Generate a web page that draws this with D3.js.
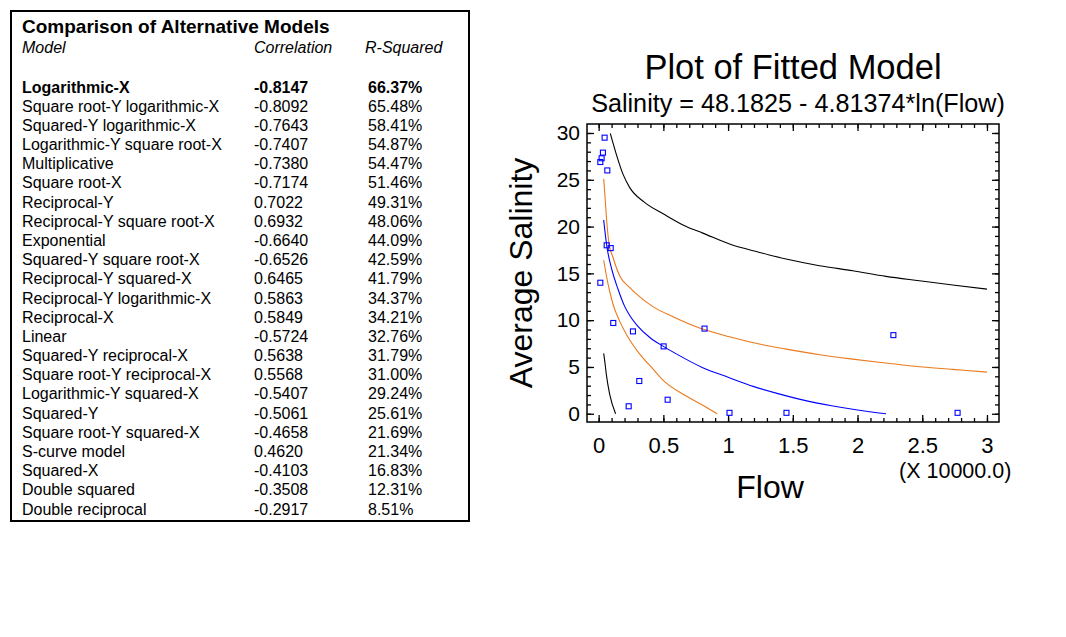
<!DOCTYPE html>
<html>
<head>
<meta charset="utf-8">
<script src="https://cdn.jsdelivr.net/npm/d3@7"></script>
<style>
  body { margin: 0; background: #fff; }
  svg { font-family: "Liberation Sans", Arial, sans-serif; }
</style>
</head>
<body>
<svg id="chart" width="1066" height="637"></svg>
<script>
// Table data
var models = ['Logarithmic-X', 'Square root-Y logarithmic-X', 'Squared-Y logarithmic-X',
  'Logarithmic-Y square root-X', 'Multiplicative', 'Square root-X', 'Reciprocal-Y',
  'Reciprocal-Y square root-X', 'Exponential', 'Squared-Y square root-X',
  'Reciprocal-Y squared-X', 'Reciprocal-Y logarithmic-X', 'Reciprocal-X', 'Linear',
  'Squared-Y reciprocal-X', 'Square root-Y reciprocal-X', 'Logarithmic-Y squared-X',
  'Squared-Y', 'Square root-Y squared-X', 'S-curve model', 'Squared-X',
  'Double squared', 'Double reciprocal'];
var correlations = ['-0.8147', '-0.8092', '-0.7643', '-0.7407', '-0.7380', '-0.7174', '0.7022',
  '0.6932', '-0.6640', '-0.6526', '0.6465', '0.5863', '0.5849', '-0.5724', '0.5638', '0.5568',
  '-0.5407', '-0.5061', '-0.4658', '0.4620', '-0.4103', '-0.3508', '-0.2917'];
var rSquared = ['66.37%', '65.48%', '58.41%', '54.87%', '54.47%', '51.46%', '49.31%', '48.06%',
  '44.09%', '42.59%', '41.79%', '34.37%', '34.21%', '32.76%', '31.79%', '31.00%', '29.24%',
  '25.61%', '21.69%', '21.34%', '16.83%', '12.31%', '8.51%'];

// Observed points (flow, salinity)
var obsFlow = [460, 330, 230, 130, 670, 620, 930, 130, 1130, 2650, 8180, 5020, 3140, 5330,
  2320, 10110, 14510, 22770, 27730];
var obsSalinity = [29.5, 27.9, 27.3, 26.9, 26.0, 18.0, 17.7, 14.0, 9.7, 8.8, 9.1, 7.2, 3.5,
  1.5, 0.8, 0.1, 0.1, 8.4, 0.1];

// Fitted line
var fitFlow = [390, 620, 1000, 1500, 2000, 2400, 3000, 4000, 5000, 6000, 8000, 10000, 12000,
  14000, 16000, 18000, 20000, 22200];
var fitSalinity = [20.7, 18.0, 15.5, 13.3, 11.5, 10.5, 9.4, 8.1, 7.2, 6.4, 4.95, 3.9, 2.9,
  2.1, 1.4, 0.85, 0.4, 0.0];

// Confidence limits (orange)
var confUpFlow = [390, 500, 640, 800, 1110, 1620, 2390, 2910, 4190, 5740, 7540, 10110, 12680,
  14480, 17060, 19630, 22200, 24770, 27350, 30000];
var confUpSalinity = [25.1, 23.0, 20.3, 18.2, 16.7, 14.75, 13.5, 12.8, 11.45, 10.37, 9.3, 8.23,
  7.37, 6.91, 6.31, 5.84, 5.42, 5.02, 4.74, 4.45];
var confLowFlow = [390, 720, 1110, 1620, 2260, 3160, 4190, 4970, 6770, 8310, 9160];
var confLowSalinity = [16.4, 13.9, 11.7, 9.9, 8.2, 6.4, 4.8, 3.6, 1.9, 0.7, 0.0];

// Prediction limits (black)
var predUpFlow = [900, 1360, 1880, 2390, 3550, 5020, 6770, 8050, 10110, 12430, 14480, 17060,
  19630, 22200, 24770, 27350, 30000];
var predUpSalinity = [29.96, 27.75, 25.6, 24.19, 22.59, 21.34, 20.0, 19.3, 18.13, 17.24, 16.53,
  15.82, 15.28, 14.68, 14.21, 13.75, 13.32];
var predLowFlow = [390, 500, 590, 850, 1310];
var predLowSalinity = [6.45, 5.3, 4.24, 2.1, 0.0];

var xTicks = [0, 5000, 10000, 15000, 20000, 25000, 30000];
var yTicks = [0, 5, 10, 15, 20, 25, 30];

var svg = d3.select('#chart');

// ---- Table ----
var table = svg.append('g');
table.append('rect')
  .attr('x', 11).attr('y', 11)
  .attr('width', 458).attr('height', 510)
  .attr('fill', 'none').attr('stroke', '#000').attr('stroke-width', 2);

table.append('text')
  .attr('x', 22).attr('y', 33)
  .style('font-size', '19px').style('font-weight', 'bold')
  .text('Comparison of Alternative Models');

var colX = [22, 254, 368];
var headers = ['Model', 'Correlation', 'R-Squared'];
var headX = [22, 254, 365];
headers.forEach(function(h, i) {
  table.append('text')
    .attr('x', headX[i]).attr('y', 53)
    .style('font-size', '16px').style('font-style', 'italic')
    .text(h);
});

var rowY = d3.scaleLinear().domain([0, 22]).range([92.5, 514.5]);
var rows = table.selectAll('.row')
  .data(models)
  .enter().append('g')
  .attr('class', 'row')
  .style('font-size', '16px')
  .style('font-weight', function(d, i) { return i === 0 ? 'bold' : 'normal'; });

rows.append('text').attr('x', colX[0]).attr('y', function(d, i) { return rowY(i); })
  .text(function(d) { return d; });
rows.append('text').attr('x', colX[1]).attr('y', function(d, i) { return rowY(i); })
  .text(function(d, i) { return correlations[i]; });
rows.append('text').attr('x', colX[2]).attr('y', function(d, i) { return rowY(i); })
  .text(function(d, i) { return rSquared[i]; });

// ---- Plot ----
var plotLeft = 587, plotRight = 999, plotTop = 124, plotBottom = 422;
var xScale = d3.scaleLinear().domain([-900, 30930]).range([plotLeft, plotRight]);
var yScale = d3.scaleLinear().domain([-0.88, 30.96]).range([plotBottom, plotTop]);

var minorX = d3.range(0, 30001, 1000);
var minorY = d3.range(0, 31, 1);

svg.append('text')
  .attr('x', 793).attr('y', 79)
  .attr('text-anchor', 'middle')
  .style('font-size', '34.5px')
  .text('Plot of Fitted Model');

svg.append('text')
  .attr('x', 798).attr('y', 112)
  .attr('text-anchor', 'middle')
  .style('font-size', '25.2px')
  .text('Salinity = 48.1825 - 4.81374*ln(Flow)');

// Axes with inward ticks
function addAxis(axis, tx, ty, cls) {
  var g = svg.append('g')
    .attr('class', cls)
    .attr('transform', 'translate(' + tx + ',' + ty + ')')
    .call(axis);
  g.select('.domain').remove();
  g.selectAll('line').attr('stroke', '#000').attr('stroke-width', 1.3);
  return g;
}

// minor ticks
addAxis(d3.axisBottom(xScale).tickValues(minorX).tickSize(-4).tickFormat(''), 0, plotBottom, 'x minor');
addAxis(d3.axisTop(xScale).tickValues(minorX).tickSize(-4).tickFormat(''), 0, plotTop, 'x minor');
addAxis(d3.axisLeft(yScale).tickValues(minorY).tickSize(-4).tickFormat(''), plotLeft, 0, 'y minor');
addAxis(d3.axisRight(yScale).tickValues(minorY).tickSize(-4).tickFormat(''), plotRight, 0, 'y minor');

// major ticks
var xAxis = d3.axisBottom(xScale).tickValues(xTicks).tickSize(-7).tickPadding(15)
  .tickFormat(function(d) { return d3.format('')(d / 10000); });
var gx = addAxis(xAxis, 0, plotBottom, 'x axis');
gx.selectAll('text').style('font-size', '22px').attr('fill', '#000')
  .style('font-family', '"Liberation Sans", Arial, sans-serif');

var yAxis = d3.axisLeft(yScale).tickValues(yTicks).tickSize(-7).tickPadding(7);
var gy = addAxis(yAxis, plotLeft, 0, 'y axis');
gy.selectAll('text').style('font-size', '21px').attr('fill', '#000')
  .style('font-family', '"Liberation Sans", Arial, sans-serif');

addAxis(d3.axisTop(xScale).tickValues(xTicks).tickSize(-7).tickFormat(''), 0, plotTop, 'x axis2');
addAxis(d3.axisRight(yScale).tickValues(yTicks).tickSize(-7).tickFormat(''), plotRight, 0, 'y axis2');

// frame
svg.append('rect')
  .attr('x', plotLeft).attr('y', plotTop)
  .attr('width', plotRight - plotLeft).attr('height', plotBottom - plotTop)
  .attr('fill', 'none').attr('stroke', '#000').attr('stroke-width', 1.5);

// axis labels
svg.append('text')
  .attr('x', 770).attr('y', 498)
  .attr('text-anchor', 'middle')
  .style('font-size', '32px')
  .text('Flow');

svg.append('text')
  .attr('x', 899).attr('y', 478)
  .style('font-size', '21.5px')
  .text('(X 10000.0)');

svg.append('text')
  .attr('transform', 'translate(532,' + ((plotTop + plotBottom) / 2) + ') rotate(-90)')
  .attr('text-anchor', 'middle')
  .style('font-size', '32px')
  .text('Average Salinity');

// lines
var line = d3.line().curve(d3.curveMonotoneX)
  .x(function(d) { return xScale(d[0]); })
  .y(function(d) { return yScale(d[1]); });

function zip(a, b) { return a.map(function(v, i) { return [v, b[i]]; }); }

var curves = [
  { pts: zip(predUpFlow, predUpSalinity), color: '#000000' },
  { pts: zip(predLowFlow, predLowSalinity), color: '#000000' },
  { pts: zip(confUpFlow, confUpSalinity), color: '#ea7a1c' },
  { pts: zip(confLowFlow, confLowSalinity), color: '#ea7a1c' },
  { pts: zip(fitFlow, fitSalinity), color: '#0000ff' }
];

svg.selectAll('.curve')
  .data(curves)
  .enter().append('path')
  .attr('class', 'curve')
  .attr('d', function(d) { return line(d.pts); })
  .attr('fill', 'none')
  .attr('stroke', function(d) { return d.color; })
  .attr('stroke-width', 1.1);

// observations
svg.selectAll('.obs')
  .data(zip(obsFlow, obsSalinity))
  .enter().append('rect')
  .attr('class', 'obs')
  .attr('x', function(d) { return xScale(d[0]) - 2.5; })
  .attr('y', function(d) { return yScale(d[1]) - 2.5; })
  .attr('width', 5).attr('height', 5)
  .attr('fill', 'none')
  .attr('stroke', '#0000ff')
  .attr('stroke-width', 1.1);
</script>
</body>
</html>
